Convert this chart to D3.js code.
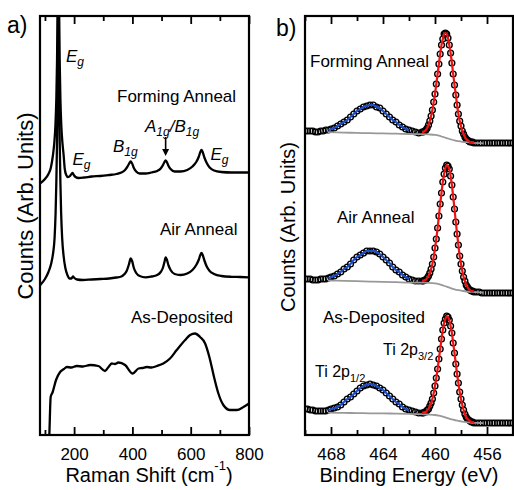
<!DOCTYPE html>
<html>
<head>
<meta charset="utf-8">
<script src="https://cdn.jsdelivr.net/npm/d3@7"></script>
<style>
  body { margin: 0; background: #fff; }
  svg text { font-family: "Liberation Sans", Arial, sans-serif; fill: #000; }
</style>
</head>
<body>
<div id="chart"></div>
<script>
// ---- panel a: Raman spectra, [shift cm-1, counts] ----
const ramanForming = [
  [85, 252], [100, 256], [112, 261], [120, 267], [127, 279], [132, 292], [136, 310], [139, 336],
  [141.5, 375], [143.5, 430], [146, 560], [148.5, 430], [150.5, 375], [153, 336], [156, 310],
  [160, 292], [164, 280], [168, 266], [173, 260], [179, 258], [186, 259], [191, 261], [195, 262],
  [199, 260], [205, 258], [215, 257], [235, 257.5], [260, 258.5], [290, 259], [320, 260], [345, 261],
  [362, 262.5], [373, 264.5], [381, 267.5], [388, 271], [394, 273.5], [399, 271.5], [405, 267],
  [413, 263.5], [425, 261.5], [445, 261.5], [465, 262.5], [485, 264], [497, 266.5], [505, 270],
  [510, 273], [514, 274.5], [518, 273], [524, 269], [531, 266], [545, 263.5], [565, 263.5],
  [588, 265], [606, 268.5], [619, 273], [628, 278.5], [633, 283], [637, 285], [641, 283],
  [647, 277.5], [655, 272], [665, 267.5], [680, 264.5], [705, 263], [740, 262.5], [770, 262.5], [800, 262.5]
];
const ramanAir = [
  [84, 150], [100, 156], [112, 163], [121, 171], [128, 182], [133, 197], [136.5, 222], [139, 252],
  [141.5, 295], [143.5, 350], [146, 470], [148.5, 350], [150.5, 295], [153, 252], [155.5, 222],
  [159, 197], [164, 179], [170, 167], [177, 160], [185, 156.5], [191, 156.5], [196, 158.5], [201, 157],
  [210, 155.5], [230, 155], [260, 155.5], [290, 156], [320, 156.5], [345, 157.5], [362, 158.5],
  [373, 161], [381, 164.5], [388, 170.5], [394, 176.5], [399, 174], [405, 167], [413, 162], [425, 159],
  [445, 157.7], [465, 158.5], [485, 160], [497, 163], [505, 167.5], [510, 173], [514, 177.5],
  [518, 175.5], [524, 169.5], [531, 165], [545, 161], [565, 160], [588, 161.5], [606, 165], [619, 170],
  [628, 175.5], [633, 180], [637, 182], [641, 180], [647, 174.5], [655, 168.5], [665, 164], [680, 161],
  [705, 159], [740, 158.2], [770, 158], [800, 157.7]
];
const ramanAsDep = [
  [106, -40], [115, 0], [119.6, 38], [126.5, 43], [138, 55], [152, 63], [165, 66], [175, 68],
  [190, 67.5], [209, 69], [230, 68.5], [255, 70], [283, 69], [306, 64], [318, 68], [329, 71.5],
  [340, 71], [352, 72.5], [375, 70], [401, 61.5], [421, 66.5], [435, 67], [449, 68], [465, 67.5],
  [484, 69], [506, 71.5], [529, 76.5], [552, 85], [581, 95], [598, 100], [615, 101.5], [632, 98],
  [649.5, 91.5], [664, 78], [680, 58], [695, 41.5], [712, 30], [735, 25], [758, 25], [781, 28], [800, 31.5]
];
const ramanMajor = [200, 400, 600, 800];
const ramanMinor = [100, 300, 500, 700];

// ---- panel b: Ti 2p XPS ----
const bindingEnergy = [
  470.0, 469.8, 469.6, 469.4, 469.2, 469.0, 468.8, 468.6, 468.4, 468.2,
  468.0, 467.75, 467.5, 467.25, 467.0, 466.75, 466.5, 466.25, 466.0, 465.75, 465.5, 465.25, 465.0,
  464.75, 464.5, 464.25, 464.0, 463.75, 463.5, 463.25, 463.0, 462.75, 462.5, 462.25, 462.0,
  461.75, 461.5, 461.25,
  461.0, 460.9, 460.8, 460.7, 460.6, 460.5, 460.4, 460.3, 460.2, 460.1, 460.0, 459.9, 459.8, 459.7,
  459.6, 459.5, 459.4, 459.3, 459.2, 459.1, 459.0, 458.9, 458.8, 458.7, 458.6, 458.5, 458.4, 458.3,
  458.2, 458.1, 458.0, 457.9, 457.8, 457.7, 457.6, 457.5, 457.4, 457.3, 457.2, 457.1, 457.0,
  456.8, 456.6, 456.4, 456.2, 456.0, 455.8, 455.6, 455.4, 455.2, 455.0, 454.8, 454.6, 454.4, 454.2, 454.0
];
const xpsForming = [
  304, 304, 304, 304, 303, 303, 304, 304, 305, 305,
  306, 307, 309, 311, 313, 315, 318, 321, 324, 326, 328, 329, 330,
  330, 328, 327, 324, 321, 318, 315, 313, 310, 308, 306, 305,
  304, 303, 302,
  303, 303, 304, 305, 307, 310, 314, 319, 325, 333, 341, 351, 361, 371,
  381, 390, 396, 401, 402, 401, 397, 390, 382, 372, 361, 350, 340, 330,
  321, 314, 309, 304, 301, 298, 296, 295, 294, 293, 293, 293, 292,
  292, 292, 292, 292, 292, 292, 292, 292, 292, 292, 292, 292, 292, 292, 292
];
const xpsAir = [
  156, 156, 156, 155, 155, 155, 156, 156, 156, 157,
  158, 159, 161, 163, 166, 168, 171, 175, 178, 180, 182, 184, 184,
  184, 183, 181, 178, 175, 172, 168, 165, 163, 160, 158, 156,
  155, 154, 154,
  154, 154, 155, 155, 157, 159, 162, 166, 171, 178, 187, 196, 207, 219,
  231, 242, 253, 261, 267, 270, 269, 266, 259, 250, 238, 226, 213, 201,
  190, 179, 171, 164, 158, 154, 150, 148, 146, 145, 144, 144, 143,
  143, 143, 142, 142, 142, 142, 142, 142, 142, 142, 142, 142, 142, 142, 142
];
const xpsAsDep = [
  26, 26, 25, 25, 24, 24, 24, 24, 24, 25,
  26, 27, 28, 30, 33, 36, 38, 41, 44, 47, 49, 50, 51,
  50, 49, 47, 45, 42, 39, 36, 33, 31, 28, 26, 25,
  24, 23, 22,
  22, 22, 23, 23, 25, 26, 29, 32, 36, 42, 49, 57, 66, 76,
  86, 96, 105, 112, 116, 119, 118, 115, 109, 102, 92, 82, 71, 61,
  52, 43, 36, 30, 25, 21, 18, 16, 15, 14, 13, 13, 12,
  12, 12, 12, 12, 12, 12, 12, 12, 12, 12, 12, 12, 12, 12, 12
];
// Shirley background (grey)
const bgEnergy = [468.25, 467, 466, 465, 464, 463, 462, 461, 460.5, 460, 459.7, 459.4, 459.1,
  458.8, 458.5, 458.2, 457.9, 457.6, 457.3, 457.0, 456.6, 456.3];
const bgForming = [302.8, 302.4, 302.1, 301.8, 301.6, 301.3, 301.0, 300.9, 300.6, 300.1, 299.3,
  298.1, 296.9, 295.7, 294.6, 293.8, 293.2, 292.8, 292.5, 292.2, 291.9, 291.7];
const bgAir = [154.5, 154.1, 153.8, 153.4, 153.1, 152.8, 152.4, 152.3, 152.2, 151.7, 150.9,
  149.7, 148.3, 146.9, 145.7, 144.8, 144.1, 143.5, 143.2, 143.0, 142.7, 142.5];
const bgAsDep = [22.4, 22.1, 21.9, 21.7, 21.6, 21.4, 21.2, 20.8, 20.5, 20.0, 19.3,
  18.4, 17.1, 15.9, 15.0, 14.1, 13.4, 12.9, 12.5, 12.2, 12.0, 11.9];
const p12Range = [462, 468.25];   // Ti 2p1/2 fit, blue
const p32Range = [457, 461];      // Ti 2p3/2 fit, red
const xpsMajor = [468, 464, 460, 456];
const xpsMinor = [470, 466, 462, 458, 454];

const w = 514;
const h = 490;
const yTop = 16, yBot = 435;

const svg = d3.select("#chart").append("svg").attr("width", w).attr("height", h);

const xA = d3.scaleLinear().domain([83, 800]).range([40, 249]);
const xB = d3.scaleLinear().domain([470, 454]).range([305, 513]);
const yC = d3.scaleLinear().domain([0, 419]).range([yBot, yTop]);

const defs = svg.append("defs");
[["clipA", xA], ["clipB", xB]].forEach(([id, sc]) => {
  defs.append("clipPath").attr("id", id).append("rect")
    .attr("x", sc.range()[0]).attr("y", yTop)
    .attr("width", sc.range()[1] - sc.range()[0]).attr("height", yBot - yTop);
});

// ---------- panel a ----------
const ramanLine = d3.line().x((d) => xA(d[0])).y((d) => yC(d[1])).curve(d3.curveMonotoneX);
const gA = svg.append("g").attr("clip-path", "url(#clipA)");
[ramanForming, ramanAir, ramanAsDep].forEach((s) => {
  gA.append("path").attr("d", ramanLine(s))
    .attr("fill", "none").attr("stroke", "#000").attr("stroke-width", 2.3)
    .attr("stroke-linejoin", "round");
});

const addTicks = function (sc, major, minor) {
  const b1 = svg.append("g").attr("transform", `translate(0,${yBot})`)
    .call(d3.axisBottom(sc).tickValues(major).tickSize(-8).tickPadding(13).tickFormat(d3.format("d")));
  const b2 = svg.append("g").attr("transform", `translate(0,${yBot})`)
    .call(d3.axisBottom(sc).tickValues(minor).tickSize(-5));
  const t1 = svg.append("g").attr("transform", `translate(0,${yTop})`)
    .call(d3.axisTop(sc).tickValues(major).tickSize(-8));
  const t2 = svg.append("g").attr("transform", `translate(0,${yTop})`)
    .call(d3.axisTop(sc).tickValues(minor).tickSize(-5));
  [b2, t1, t2].forEach((g) => g.selectAll("text").remove());
  [b1, b2, t1, t2].forEach((g) => {
    g.select(".domain").remove();
    g.selectAll("line").attr("stroke", "#000").attr("stroke-width", 1.8);
  });
  b1.selectAll("text").attr("font-size", 17).attr("fill", "#000")
    .attr("font-family", '"Liberation Sans", Arial, sans-serif');
};
addTicks(xA, ramanMajor, ramanMinor);

svg.append("rect").attr("x", 40).attr("y", yTop).attr("width", 209).attr("height", yBot - yTop)
  .attr("fill", "none").attr("stroke", "#000").attr("stroke-width", 2.2);

const xt = svg.append("text").attr("x", 149).attr("y", 482).attr("text-anchor", "middle")
  .attr("font-size", 20);
xt.append("tspan").text("Raman Shift (cm");
xt.append("tspan").text("-1").attr("font-size", 13).attr("dy", -12);
xt.append("tspan").text(")").attr("dy", 12);

svg.append("text").attr("transform", "translate(33,206) rotate(-90)")
  .attr("text-anchor", "middle").attr("font-size", 22).text("Counts (Arb. Units)");

svg.append("text").attr("x", 7).attr("y", 33).attr("font-size", 23).text("a)");

const annot = function (x, y, txt, size) {
  svg.append("text").attr("x", x).attr("y", y).attr("font-size", size || 17).text(txt);
};
annot(117, 101.5, "Forming Anneal");
annot(160, 235, "Air Anneal");
annot(131, 323, "As-Deposited");

// italic mode labels with subscripts
const mode = function (x, y, parts) {
  const t = svg.append("text").attr("x", x).attr("y", y).attr("font-size", 17)
    .attr("font-style", "italic");
  parts.forEach(([s, sub], i) => {
    t.append("tspan").text(s).attr("font-size", sub ? 12 : 17).attr("dy", sub ? 4 : (i ? -4 : 0));
  });
};
mode(66, 62, [["E", false], ["g", true]]);
mode(72.5, 165, [["E", false], ["g", true]]);
mode(113, 152, [["B", false], ["1g", true]]);
mode(145, 132, [["A", false], ["1g", true], ["/B", false], ["1g", true]]);
mode(210.5, 160, [["E", false], ["g", true]]);

// arrow to the A1g/B1g peak
const ax = xA(514);
svg.append("line").attr("x1", ax).attr("x2", ax).attr("y1", 137).attr("y2", 150)
  .attr("stroke", "#000").attr("stroke-width", 1.6);
svg.append("path").attr("d", `M${ax - 3.5},149 L${ax + 3.5},149 L${ax},156 Z`).attr("fill", "#000");

// ---------- panel b ----------
const gB = svg.append("g").attr("clip-path", "url(#clipB)");
const xpsLine = d3.line().x((d) => xB(d[0])).y((d) => yC(d[1])).curve(d3.curveMonotoneX);
const spectra = [
  [xpsForming, bgForming],
  [xpsAir, bgAir],
  [xpsAsDep, bgAsDep],
];
spectra.forEach(([counts, bg]) => {
  const pts = bindingEnergy.map((e, i) => [e, counts[i]]);
  const bgPts = bgEnergy.map((e, i) => [e, bg[i]]);
  gB.append("g").selectAll("circle").data(pts).enter().append("circle")
    .attr("cx", (d) => xB(d[0])).attr("cy", (d) => yC(d[1])).attr("r", 2.9)
    .attr("fill", "none").attr("stroke", "#000").attr("stroke-width", 1.4);
  gB.append("path").attr("d", xpsLine(bgPts.slice().reverse()))
    .attr("fill", "none").attr("stroke", "#999").attr("stroke-width", 1.8);
  const blue = pts.filter((d) => d[0] >= p12Range[0] && d[0] <= p12Range[1]).reverse();
  const red = pts.filter((d) => d[0] >= p32Range[0] && d[0] <= p32Range[1]).reverse();
  gB.append("path").attr("d", xpsLine(blue))
    .attr("fill", "none").attr("stroke", "#1f4fc8").attr("stroke-width", 2.2);
  gB.append("path").attr("d", xpsLine(red))
    .attr("fill", "none").attr("stroke", "#ee1111").attr("stroke-width", 2.2);
});

addTicks(xB, xpsMajor, xpsMinor);

svg.append("rect").attr("x", 305).attr("y", yTop).attr("width", 208).attr("height", yBot - yTop)
  .attr("fill", "none").attr("stroke", "#000").attr("stroke-width", 2.2);

svg.append("text").attr("x", 409).attr("y", 482).attr("text-anchor", "middle")
  .attr("font-size", 20).text("Binding Energy (eV)");
svg.append("text").attr("transform", "translate(295,227) rotate(-90)")
  .attr("text-anchor", "middle").attr("font-size", 20).text("Counts (Arb. Units)");
svg.append("text").attr("x", 276).attr("y", 36).attr("font-size", 23).text("b)");

annot(310, 66.5, "Forming Anneal");
annot(337, 222.5, "Air Anneal");
annot(323, 322.5, "As-Deposited");

const tiLabel = function (x, y, sub) {
  const t = svg.append("text").attr("x", x).attr("y", y).attr("font-size", 16);
  t.append("tspan").text("Ti 2p");
  t.append("tspan").text(sub).attr("font-size", 11).attr("dy", 5);
};
tiLabel(383, 355, "3/2");
tiLabel(315, 376.5, "1/2");
</script>
</body>
</html>
